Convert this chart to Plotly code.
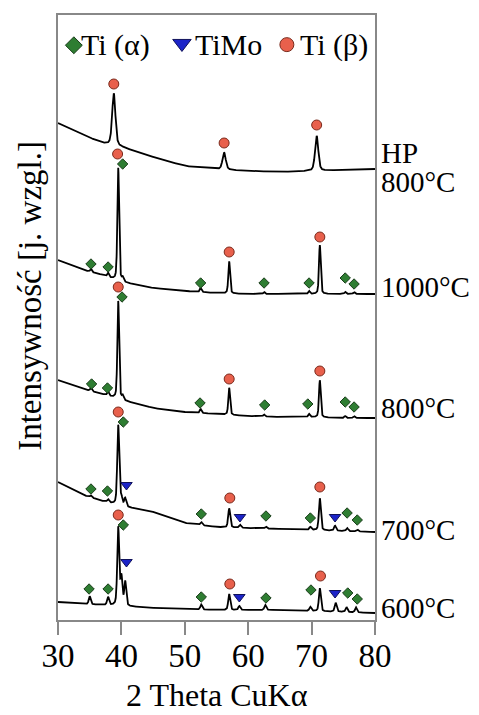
import numpy as np
import plotly.graph_objects as go

# ---------------- data (intensity in arbitrary units) ----------------
two_theta = np.round(np.arange(30.0, 80.0001, 0.02), 3)

samples = ["HP 800°C", "1000°C", "800°C", "700°C", "600°C"]

# baseline knots (2θ, intensity) per pattern
bg_x = [30, 34, 37, 40, 45, 50, 55, 60, 65, 70, 75, 80]
bg_hp = [497, 485, 477, 473, 463, 454, 451, 449, 448, 449, 450, 451]
bg_1000 = [360, 350, 345, 338, 332, 329, 327, 326, 326, 326, 326, 326]
bg_800 = [240, 231, 226, 220, 212, 208, 206, 204, 203, 203, 202, 202]
bg_700 = [138, 125, 119, 114, 108, 97, 93, 92, 91, 90, 89, 88]
bg_600 = [18, 16, 15, 14, 12, 11, 10, 10, 10, 9, 8, 7]

# peaks: position (2θ), height above baseline
pk_hp_pos = [38.8, 56.2, 70.8]
pk_hp_h = [52, 17, 35]
pk_1000_pos = [35.2, 37.9, 39.5, 40.2, 52.5, 57.0, 62.5, 69.6, 71.3, 75.3, 76.7]
pk_1000_h = [3, 4, 113, 4, 4, 32, 2, 3, 49, 2, 2]
pk_800_pos = [35.2, 37.9, 39.5, 40.2, 52.5, 57.0, 62.5, 69.6, 71.3, 75.3, 76.7]
pk_800_h = [3, 4, 98, 4, 4, 27, 2, 3, 37, 2, 2]
pk_700_pos = [35.2, 37.9, 39.5, 40.0, 40.6, 52.6, 57.0, 58.7, 62.8, 69.8, 71.3, 73.7, 75.6, 77.2]
pk_700_h = [2, 3, 80, 8, 8, 3, 19, 3, 2, 3, 32, 5, 3, 2]
pk_600_pos = [35.0, 37.9, 39.5, 40.0, 40.6, 52.6, 57.0, 58.6, 62.7, 69.8, 71.3, 73.8, 75.5, 77.0]
pk_600_h = [8, 8, 78, 28, 24, 5, 16, 4, 5, 4, 23, 9, 5, 5]

# phase markers (2θ, intensity)
beta_x = [38.8, 56.2, 70.8, 39.4, 57.0, 71.3, 39.5, 57.0, 71.3, 39.5, 57.1, 71.3, 39.5, 57.1, 71.4]
beta_y = [536, 477, 495, 466, 368, 383, 333, 241, 249, 208, 122, 133, 105, 36, 44]
alpha_x = [35.2, 37.9, 40.2, 52.5, 62.5, 69.6, 75.3, 76.7,
           35.3, 37.8, 40.1, 52.4, 62.6, 69.4, 75.3, 76.7,
           35.2, 37.8, 40.3, 52.6, 62.8, 69.8, 75.6, 77.2,
           34.9, 37.9, 40.3, 52.6, 62.8, 69.9, 75.7, 77.2]
alpha_y = [356, 353, 456, 337, 337, 337, 342, 336,
           236, 232, 323, 217, 215, 216, 218, 213,
           131, 129, 198, 106, 104, 102, 107, 100,
           31, 31, 95, 23, 22, 30, 27, 21]
timo_x = [40.8, 58.7, 73.7, 40.8, 58.6, 73.7]
timo_y = [135, 103, 103, 58, 23, 27]

phase_names = ["Ti (α)", "TiMo", "Ti (β)"]
right_labels = ["HP", "800°C", "1000°C", "800°C", "700°C", "600°C"]
x_ticks = [30, 40, 50, 60, 70, 80]

# ---------------- layout positions / styles ----------------
label_y = [467, 438, 333, 212, 90, 12]
key_sym_x = [0.050, 0.391, 0.722]     # legend key positions (paper fraction of plot area)
key_sym_y = [0.950, 0.953, 0.951]
key_txt_x = [0.066, 0.425, 0.757]
key_txt_y = 0.951
symbols = ["diamond", "triangle-down", "circle"]
fills = ["#2e7d32", "#1c24c8", "#e8604c"]
edges = ["#1b3d1b", "#10125a", "#7a2a1c"]
plot_sizes = [8, 10, 10]
key_sizes = [13, 16, 14]
SERIF = "Liberation Serif"


def pattern(bg, pos, h, fwhm):
    y = np.interp(two_theta, bg_x, bg)
    for p, a in zip(pos, h):
        d = (two_theta - p) / (fwhm / 2)
        g = np.exp(-np.log(2) * d ** 2)
        l = 1 / (1 + d ** 2)
        y = y + a * (0.6 * g + 0.4 * l)
    return y


patterns = [
    pattern(bg_hp, pk_hp_pos, pk_hp_h, 0.6),
    pattern(bg_1000, pk_1000_pos, pk_1000_h, 0.32),
    pattern(bg_800, pk_800_pos, pk_800_h, 0.32),
    pattern(bg_700, pk_700_pos, pk_700_h, 0.36),
    pattern(bg_600, pk_600_pos, pk_600_h, 0.36),
]

fig = go.Figure()
for name, y in zip(samples, patterns):
    fig.add_trace(go.Scatter(x=two_theta, y=y, mode="lines", name=name,
                             line=dict(color="black", width=1.8), showlegend=False,
                             hoverinfo="skip"))

for i, (mx, my) in enumerate([(alpha_x, alpha_y), (timo_x, timo_y), (beta_x, beta_y)]):
    fig.add_trace(go.Scatter(x=mx, y=my, mode="markers", name=phase_names[i], showlegend=False,
                             marker=dict(symbol=symbols[i], size=plot_sizes[i], color=fills[i],
                                         line=dict(color=edges[i], width=1))))
    # legend key symbol on an overlay axis spanning the plot area
    fig.add_trace(go.Scatter(x=[key_sym_x[i]], y=[key_sym_y[i]], xaxis="x2", yaxis="y2",
                             mode="markers", showlegend=False, hoverinfo="skip",
                             marker=dict(symbol=symbols[i], size=key_sizes[i], color=fills[i],
                                         line=dict(color=edges[i], width=1))))
    fig.add_annotation(x=key_txt_x[i], y=key_txt_y, xref="paper", yref="paper",
                       text=phase_names[i], showarrow=False, xanchor="left", yanchor="middle",
                       font=dict(size=30, color="black", family=SERIF))

for txt, yy in zip(right_labels, label_y):
    fig.add_annotation(x=1, xref="paper", y=yy, yref="y", text=txt, showarrow=False,
                       xanchor="left", yanchor="middle", xshift=4,
                       font=dict(size=29, color="black", family=SERIF))

fig.add_annotation(x=-0.088, y=0.536, xref="paper", yref="paper", textangle=-90,
                   text="Intensywność [j. wzgl.]", showarrow=False,
                   xanchor="center", yanchor="middle",
                   font=dict(size=33, color="black", family=SERIF))
fig.add_annotation(x=0.5, y=-0.124, xref="paper", yref="paper",
                   text="2 Theta CuKα", showarrow=False,
                   xanchor="center", yanchor="middle",
                   font=dict(size=32, color="black", family=SERIF))

# the page body has an 8 px margin, so the figure is 8 px smaller and shifted
fig.update_layout(
    width=471, height=707,
    margin=dict(l=50, r=104, t=7, b=95, autoexpand=False),
    paper_bgcolor="white", plot_bgcolor="white",
    font=dict(family=SERIF, color="black", size=30),
    showlegend=False,
    xaxis=dict(range=[30, 80], tickvals=x_ticks, ticks="outside", ticklen=13,
               tickcolor="#888888", tickwidth=1.5, showline=True, linecolor="#888888",
               linewidth=1.5, mirror=True, showgrid=False, zeroline=False,
               tickfont=dict(size=33), ticklabelstandoff=-7),
    yaxis=dict(range=[0, 605], showticklabels=False, ticks="", showline=True,
               linecolor="#888888", linewidth=1.5, mirror=True, showgrid=False,
               zeroline=False),
    xaxis2=dict(range=[0, 1], overlaying="x", visible=False),
    yaxis2=dict(range=[0, 1], overlaying="y", visible=False),
)

fig.write_html("out.html")
